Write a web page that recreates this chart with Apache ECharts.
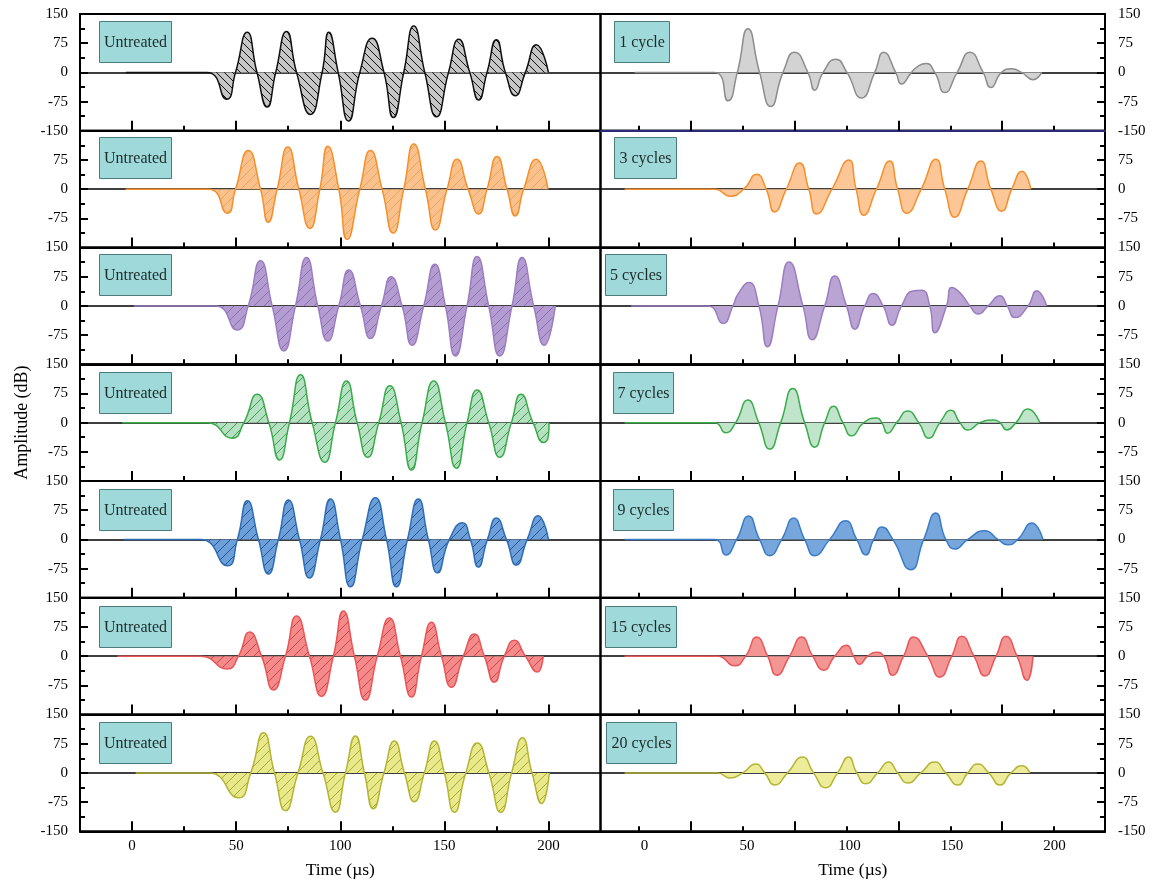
<!DOCTYPE html>
<html><head><meta charset="utf-8">
<script src="https://cdn.jsdelivr.net/npm/echarts@6/dist/echarts.min.js"></script>
<style>html,body{margin:0;padding:0;background:#fff}#c{width:1152px;height:882px}</style>
</head><body><div id="c"></div>
<script>
// ---------- DATA (time µs, amplitude dB) ----------
const leftLabel = 'Untreated';
const rightLabels = ['1 cycle','3 cycles','5 cycles','7 cycles','9 cycles','15 cycles','20 cycles'];
const yTickValues = [-150,-75,0,75,150];
const xLabelValues = [0,50,100,150,200];
const xOddValues = [25,75,125,175];

const untreated1 = [[-3,0],[36,0],[45.4,-69],[49.7,0],[55.3,103],[60,0],[64.9,-89],[69,0],[74.2,105],[79,0],[85.7,-108],[91.3,0],[94.5,103],[99,0],[104,-125],[109.4,0],[115.3,88],[121,0],[125.5,-116],[130.5,0],[135.3,119],[140.6,0],[146.2,-114],[152,0],[156.9,85],[162.2,0],[166.5,-71],[170.5,0],[175,84],[179.3,0],[184.1,-60],[188.9,0],[194.2,71],[200,0]];
const untreated2 = [[-3.1,0],[36.9,0],[45.7,-62],[49.7,0],[55.8,99],[61.7,0],[65.4,-85],[69.7,0],[74.8,108],[80.1,0],[85.4,-101],[90.2,0],[94,110],[99.3,0],[103.3,-129],[109.4,0],[114.5,99],[120.1,0],[125.4,-113],[130.5,0],[135.3,116],[140.9,0],[145.7,-105],[151.3,0],[156.1,77],[161.4,0],[166.5,-64],[170.5,0],[175.3,84],[180.1,0],[184.1,-69],[188.1,0],[194.2,77],[199.8,0]];
const untreated3 = [[0.9,0],[40,0],[50.5,-62],[55.8,0],[61.7,116],[67.3,0],[72.9,-116],[78.5,0],[83.8,124],[89.2,0],[94,-90],[99.3,0],[104.1,92],[109.7,0],[114.5,-84],[119.8,0],[124.4,75],[129.7,0],[134.5,-101],[140.1,0],[145.4,107],[150.5,0],[155.3,-129],[160.9,0],[165.7,127],[171.3,0],[176.6,-129],[182.5,0],[187.3,124],[192.9,0],[198,-101],[203.3,0]];
const untreated4 = [[-4.7,0],[36.1,0],[48.1,-40],[53.7,0],[60.1,73],[65.7,0],[70.8,-96],[75.6,0],[80.9,123],[86.5,0],[92.6,-102],[97.7,0],[103,107],[108.1,0],[113.2,-89],[118.5,0],[123.8,95],[129.2,0],[134.2,-122],[139.3,0],[144.9,107],[150.5,0],[155.8,-117],[160.9,0],[165.7,84],[171.3,0],[176.6,-89],[182.2,0],[186.8,73],[192.6,0],[197.7,-51],[200,-32],[200.3,0]];
const untreated5 = [[-4.1,0],[32.9,0],[45.8,-68],[50.6,0],[55.4,99],[60.7,0],[65.5,-89],[70.3,0],[75.1,101],[80.4,0],[85.2,-99],[90.5,0],[95.3,104],[100.1,0],[104.9,-122],[110.6,0],[116.9,107],[122.2,0],[127,-122],[132.3,0],[137.5,104],[142.3,0],[146.7,-86],[152.4,0],[158.7,43],[162.5,0],[166.3,-71],[170.7,0],[175,55],[179.8,0],[184.6,-66],[189.8,0],[195.1,61],[200,0]];
const untreated6 = [[-7,0],[32.9,0],[45.8,-33],[51.1,0],[56.4,62],[62.2,0],[67.9,-87],[73.7,0],[79,103],[85.2,0],[91,-103],[96.7,0],[101.5,116],[106.8,0],[112.1,-113],[117.8,0],[123.6,98],[128.9,0],[134.2,-105],[139,0],[143.8,87],[148.6,0],[153.4,-80],[159.1,0],[164.4,57],[169.2,0],[174,-67],[178.8,0],[183.6,41],[188.9,0],[194.7,-41],[197.5,0]];
const untreated7 = [[1.7,0],[37,0],[51.1,-64],[57,0],[63.1,103],[68.4,0],[73.7,-97],[79.7,0],[85.7,94],[91.7,0],[97.7,-101],[102.5,0],[107.3,95],[111.6,0],[115.9,-92],[121,0],[126,82],[130.8,0],[135.6,-74],[140.4,0],[145.2,82],[150,0],[154.8,-101],[160.3,0],[165.8,77],[171.4,0],[177.1,-101],[182.3,0],[187.5,90],[192.1,0],[196.8,-79],[200.4,0]];

const treated1 = [[-2.1,0],[36.5,0],[42.9,-73],[47.4,0],[52.5,112],[58.1,0],[63.5,-88],[69.4,0],[75,52],[81.4,0],[84.7,-46],[88.7,0],[94.8,34],[100.2,0],[107.2,-66],[113.6,0],[117.9,52],[123.7,0],[126.5,-30],[131.3,0],[134.5,16],[138.2,23],[142.5,0],[147.3,-52],[153.3,0],[159.4,52],[165.8,0],[169.5,-39],[174.7,0],[179.5,9],[184.3,0],[189.9,-19],[194,0]];
const treated3 = [[-6.9,0],[36.5,0],[44,-18],[50.5,0],[56.7,38],[61.3,0],[65.3,-59],[71,0],[77.4,67],[81.8,0],[85.6,-64],[93,0],[101.1,75],[104.6,0],[108.3,-67],[114.4,0],[120.8,72],[124.6,0],[129,-62],[136,0],[143,77],[147.3,0],[152.1,-72],[158.4,0],[164.7,72],[169.5,0],[174.8,-57],[179.6,0],[184.5,46],[188.8,0]];
const treated5 = [[-3.7,0],[33.2,0],[40.5,-45],[45.3,0],[47.7,30],[53,60],[57.8,0],[61.9,-105],[67,0],[72.3,113],[79,0],[83.4,-87],[89.5,0],[94.3,77],[100,0],[104,-60],[108.8,0],[112.8,32],[117.6,0],[121.9,-50],[126.5,0],[131.9,38],[136.3,40],[140.1,0],[142.5,-69],[148.2,0],[150.6,47],[154.6,34],[159.4,0],[163.4,-21],[168.2,0],[173.9,26],[177.4,0],[181.1,-30],[187.5,0],[191.6,39],[196.4,0]];
const treated7 = [[-6.9,0],[36.5,0],[41.8,-26],[46.6,0],[52.4,58],[57.7,0],[63,-68],[68.3,0],[74.1,88],[79.8,0],[84.7,-63],[89.5,0],[93.8,42],[98.2,0],[102.5,-34],[108.3,0],[114.6,12],[117,0],[119.8,-27],[124.2,0],[129.5,30],[134.8,0],[139.6,-40],[145,0],[150.3,32],[154.6,0],[158.5,-19],[164.3,0],[171,7],[173.9,0],[177.2,-19],[181.6,0],[187.4,35],[193.1,0]];
const treated9 = [[-6.9,0],[36.5,0],[41.8,-40],[47.1,0],[52.8,60],[58.1,0],[63,-42],[68.8,0],[74.5,55],[79.8,0],[84.6,-42],[91.9,0],[99.6,48],[104.9,0],[109.3,-40],[113.1,0],[117,32],[122.3,0],[131,-78],[137.2,0],[143,68],[147.8,0],[152.2,-25],[158.4,0],[166.6,22],[172.9,0],[177.7,-14],[182.5,0],[189.3,42],[194.6,0]];
const treated15 = [[-6.9,0],[37.9,0],[46.1,-25],[51.4,0],[56.7,49],[62,0],[66.4,-49],[72.6,0],[78.4,49],[83.7,0],[89,-36],[94.3,0],[100.1,28],[103.4,0],[106.3,-21],[110.2,0],[114.5,10],[117.9,0],[122.2,-49],[127.5,0],[132.3,49],[139.1,0],[144.9,-54],[150.7,0],[155.5,51],[161.4,0],[166.7,-51],[172,0],[176.8,51],[182.1,0],[186.9,-62],[189.8,0]];
const treated20 = [[-6.9,0],[37.9,0],[43.7,-13],[50,0],[56.2,23],[60.6,0],[65.4,-31],[71.6,0],[78.8,41],[84.1,0],[89.9,-38],[95.7,0],[101,41],[104.9,0],[109.2,-28],[115,0],[120.3,28],[124.6,0],[129.5,-26],[135.8,0],[142.5,28],[147.8,0],[153.6,-31],[158.4,0],[163.2,23],[168.5,0],[173.9,-31],[179.2,0],[184.5,18],[188.3,0]];

const leftSeriesData = [untreated1, untreated2, untreated3, untreated4, untreated5, untreated6, untreated7];
const rightSeriesData = [treated1, treated3, treated5, treated7, treated9, treated15, treated20];

// ---------- STYLE ----------
const lineColorsL = ['#111111','#f58f2d','#9a7ec0','#3aab4b','#2e6db5','#ea5558','#b4b434'];
const lineColorsR = ['#8c8c8c','#f58f2d','#9a7ec0','#3aab4b','#3b7cc6','#ea5558','#b4b434'];
const fillColors  = ['#c6c6c6','#fbc08c','#b39dd0','#b5e0c2','#6d9fd8','#f28b89','#e8e98c'];
const fillColorsR = ['#d3d3d3','#fcc696','#b9a4d4','#c0e5ca','#76a6dc','#f39593','#ecec9a'];
const hatchColors = ['#111111','#d9ad5c','#8c6db5','#3aa04b','#23559a','#d9404a','#a9a92c'];

function hatch(bg, col, back, s) {
  const c = document.createElement('canvas'); c.width = s; c.height = s;
  const g = c.getContext('2d');
  g.fillStyle = bg; g.fillRect(0,0,s,s);
  g.strokeStyle = col; g.lineWidth = 1;
  g.beginPath();
  if (back) {
    g.moveTo(0,0); g.lineTo(s,s);
    g.moveTo(-2,s-2); g.lineTo(2,s+2);
    g.moveTo(s-2,-2); g.lineTo(s+2,2);
  } else {
    g.moveTo(0,s); g.lineTo(s,0);
    g.moveTo(-2,2); g.lineTo(2,-2);
    g.moveTo(s-2,s+2); g.lineTo(s+2,s-2);
  }
  g.stroke();
  return c;
}

const TOP = 14, ROWH = 116.75;
const LEFT_X = 80, LEFT_W = 520.5, RIGHT_X = 600.5, RIGHT_W = 504.5;
const LMIN = -25, LMAX = 225, RMIN = -18.5, RMAX = 224.5;
const RLBL_MIN = -21.5, RLBL_MAX = 224.7;
const FONT = 'Liberation Serif, Times New Roman, serif';

const grids = [], xAxes = [], yAxes = [], series = [], graphics = [];

function yLabelVals(r) {
  if (r === 0 || r === 6) return yTickValues;
  if (r === 1) return [-75,0,75];
  return [-75,0,75,150];
}

for (let side = 0; side < 2; side++) {
  for (let r = 0; r < 7; r++) {
    const gi = grids.length;
    const left = side === 0;
    grids.push({
      left: left ? LEFT_X : RIGHT_X, top: TOP + r*ROWH,
      width: left ? LEFT_W : RIGHT_W, height: ROWH,
      show: true, borderColor: '#000', borderWidth: 2, backgroundColor: 'transparent'
    });
    const min = left ? LMIN : RMIN, max = left ? LMAX : RMAX;
    const longTicks = left ? xLabelValues : xOddValues;
    const shortTicks = left ? xOddValues : xLabelValues;
    const bottomRow = r === 6;
    const navy = (!left && r === 0);
    const xBase = xAxes.length;
    xAxes.push({
      gridIndex: gi, type: 'value', min, max, position: 'bottom', z: navy ? 5 : 0,
      axisLine: { show: true, onZero: false, lineStyle: { color: navy ? '#2a2a78' : '#000', width: 2 } },
      axisTick: { show: true, inside: true, length: 10, customValues: longTicks, lineStyle: { color: '#000', width: 2 } },
      axisLabel: { show: bottomRow && left, customValues: xLabelValues, margin: 7, color: '#000', fontFamily: FONT, fontSize: 15 },
      splitLine: { show: false },
      name: bottomRow ? 'Time (µs)' : '', nameLocation: 'middle', nameGap: 30,
      nameTextStyle: { fontFamily: FONT, fontSize: 17.5, color: '#000' }
    });
    xAxes.push({
      gridIndex: gi, type: 'value', min, max, position: 'bottom',
      axisLine: { show: false, onZero: false },
      axisTick: { show: true, inside: true, length: 5, customValues: shortTicks, lineStyle: { color: '#000', width: 2 } },
      axisLabel: { show: false },
      splitLine: { show: false }
    });
    xAxes.push({
      gridIndex: gi, type: 'value', min, max, position: 'bottom',
      axisLine: { show: true, onZero: true, lineStyle: { color: '#000', width: 1.5 } },
      axisTick: { show: false }, axisLabel: { show: false }, splitLine: { show: false }
    });
    if (!left && bottomRow) {
      xAxes.push({
        gridIndex: gi, type: 'value', min: RLBL_MIN, max: RLBL_MAX, position: 'bottom',
        axisLine: { show: false, onZero: false }, axisTick: { show: false }, splitLine: { show: false },
        axisLabel: { show: true, customValues: xLabelValues, margin: 7, color: '#000', fontFamily: FONT, fontSize: 15 }
      });
    }
    yAxes.push({
      gridIndex: gi, type: 'value', min: -150, max: 150, interval: 75,
      position: left ? 'left' : 'right',
      axisLine: { show: true, onZero: false, lineStyle: { color: '#000', width: 2 } },
      axisTick: { show: true, inside: true, length: 8, lineStyle: { color: '#000', width: 2 } },
      minorTick: { show: true, splitNumber: 2, length: 5, lineStyle: { color: '#000', width: 2 } },
      axisLabel: { show: true, customValues: yLabelVals(r), margin: left ? 12 : 13, color: '#000', fontFamily: FONT, fontSize: 15 },
      splitLine: { show: false },
      name: (left && r === 3) ? 'Amplitude (dB)' : '', nameLocation: 'middle', nameGap: 49, nameRotate: 90,
      nameTextStyle: { fontFamily: FONT, fontSize: 18, color: '#000' }
    });
    const yi = yAxes.length - 1;
    const areaColor = left
      ? { image: hatch(fillColors[r], hatchColors[r], r === 0, r === 0 ? 8 : 10), repeat: 'repeat' }
      : fillColorsR[r];
    series.push({
      type: 'line', xAxisIndex: xBase, yAxisIndex: yi,
      data: left ? leftSeriesData[r] : rightSeriesData[r],
      smooth: 0.55, showSymbol: false, symbol: 'none', clip: true,
      lineStyle: { color: left ? lineColorsL[r] : lineColorsR[r], width: 1.5 },
      itemStyle: { color: left ? lineColorsL[r] : lineColorsR[r] },
      areaStyle: { color: areaColor, opacity: 1 },
      z: 3
    });
  }
}

// label boxes
const boxY = [21, 137, 254, 372, 489, 606, 722];
const rightBox = [[614,55],[614,62],[605,61],[613,60],[613,60],[605,71],[606,70]];
function box(x, y, w, text) {
  return {
    type: 'group', left: x, top: y, z: 20,
    children: [
      { type: 'rect', shape: { x: 0, y: 0, width: w, height: 41 }, style: { fill: '#a0d9d9', stroke: '#4b7b7b', lineWidth: 1 } },
      { type: 'text', x: w/2, y: 21, style: { text, fill: '#1d2b2b', font: '16px ' + FONT, textAlign: 'center', textVerticalAlign: 'middle' } }
    ]
  };
}
for (let r = 0; r < 7; r++) {
  graphics.push(box(99, boxY[r], 72, leftLabel));
  graphics.push(box(rightBox[r][0], boxY[r], rightBox[r][1], rightLabels[r]));
}

const chart = echarts.init(document.getElementById('c'), null, { renderer: 'canvas' });
chart.setOption({
  animation: false,
  backgroundColor: '#fff',
  grid: grids, xAxis: xAxes, yAxis: yAxes, series: series, graphic: graphics
});
</script>
</body></html>
